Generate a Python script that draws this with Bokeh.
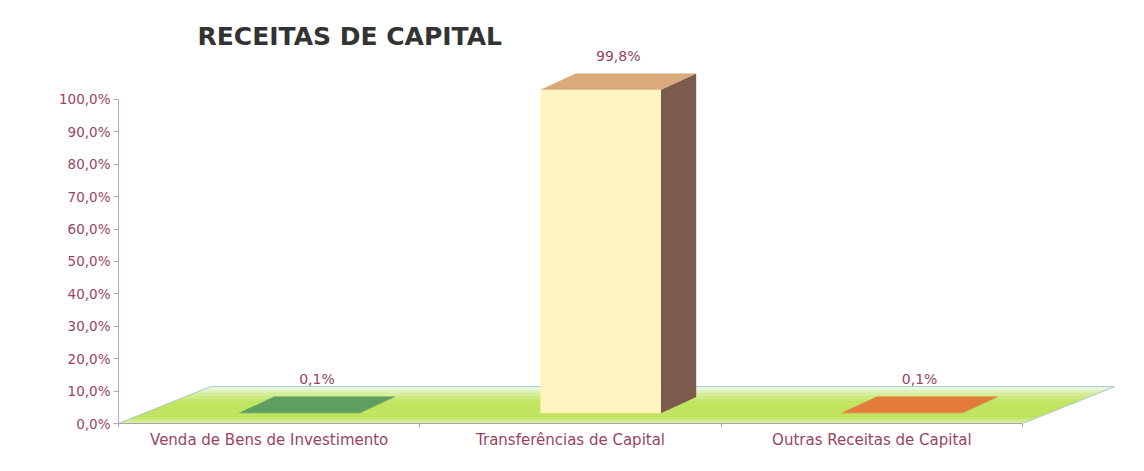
import numpy as np
from bokeh.plotting import figure
from bokeh.models import FixedTicker, Range1d, ColumnDataSource, LabelSet
from bokeh.embed import file_html
from bokeh.resources import INLINE
from bokeh.core.properties import value

# ---------------- data ----------------
title_text = "RECEITAS DE CAPITAL"
categories = ["Venda de Bens de Investimento", "Transferências de Capital", "Outras Receitas de Capital"]
shares = [0.1, 99.8, 0.1]
y_ticks = [0, 10, 20, 30, 40, 50, 60, 70, 80, 90, 100]
y_tick_labels = ["0,0%", "10,0%", "20,0%", "30,0%", "40,0%", "50,0%", "60,0%", "70,0%", "80,0%", "90,0%", "100,0%"]
value_labels = ["0,1%", "99,8%", "0,1%"]

# ---------------- style ----------------
FONT = "DejaVu Sans"
TEXT_RED = "#9A4461"
AXIS_Y = "#C9A0B2"
AXIS_X = "#A6A6A6"
FRONT_COLS = ["#5E9E60", "#FFF4C0", "#E27B3B"]
TOP_COLS = ["#5E9E60", "#D9AA7A", "#E27B3B"]
SIDE_COLS = ["#4C8A4F", "#7B5B4D", "#C4642C"]
# floor gradient stops: (depth fraction from front, colour)
FLOOR_STOPS = [(0.0, (0xDE, 0xF2, 0xB4)), (0.18, (0xBE, 0xE3, 0x5A)),
               (0.6, (0xC0, 0xE5, 0x60)), (0.85, (0xD9, 0xF0, 0xA8)),
               (1.0, (0xF0, 0xF9, 0xF2))]
FLOOR_EDGE = "#AFC9C9"

FDX, FDY = 0.306, 11.4          # floor depth offset (x units, %)
BAR_X0, BAR_W = 0.40, 0.40      # bar front face position inside category slot
BAR_BASE = 3.2                  # bar base above floor front edge
BDX, BDY = 0.117, 5.0           # bar depth offset
LABEL_OFF = 3.0

n = len(categories)


def floor_colour(t):
    for (t0, c0), (t1, c1) in zip(FLOOR_STOPS[:-1], FLOOR_STOPS[1:]):
        if t0 <= t <= t1:
            f = (t - t0) / (t1 - t0)
            return "#%02x%02x%02x" % tuple(int(round(a + (b - a) * f)) for a, b in zip(c0, c1))
    return "#%02x%02x%02x" % FLOOR_STOPS[-1][1]


p = figure(width=1128, height=455,
           x_range=Range1d(0, 3.325), y_range=Range1d(0, 115.1),
           output_backend="svg", toolbar_location=None,
           min_border_left=118, min_border_right=8,
           min_border_top=50, min_border_bottom=32,
           background_fill_color="white", border_fill_color="white",
           outline_line_color=None)
p.xgrid.visible = False
p.ygrid.visible = False

# ---------------- floor (gradient strips) ----------------
N = 24
fxs, fys, fcols = [], [], []
for k in range(N):
    t0, t1 = k / N, (k + 1) / N
    fxs.append([FDX * t0, n + FDX * t0, n + FDX * t1, FDX * t1])
    fys.append([FDY * t0, FDY * t0, FDY * t1, FDY * t1])
    fcols.append(floor_colour((t0 + t1) / 2))
p.patches(fxs, fys, fill_color=fcols, line_color=fcols, line_width=0.6)
p.line([0, FDX, n + FDX, n], [0, FDY, FDY, 0], line_color=FLOOR_EDGE, line_width=1)

# ---------------- 3D bars ----------------
left = [i + BAR_X0 for i in range(n)]
right = [l + BAR_W for l in left]
bottom = [BAR_BASE] * n
top = [BAR_BASE + v for v in shares]

side_xs = [[r, r + BDX, r + BDX, r] for r in right]
side_ys = [[b, b + BDY, t + BDY, t] for b, t in zip(bottom, top)]
p.patches(side_xs, side_ys, fill_color=SIDE_COLS, line_color=None)
p.quad(left=left, right=right, bottom=bottom, top=top, fill_color=FRONT_COLS, line_color=None)
top_xs = [[l, r, r + BDX, l + BDX] for l, r in zip(left, right)]
top_ys = [[t, t, t + BDY, t + BDY] for t in top]
p.patches(top_xs, top_ys, fill_color=TOP_COLS, line_color=None)

# value labels (annotation, not clipped to frame)
lab_src = ColumnDataSource(dict(
    x=[l + BAR_W / 2 + BDX / 2 for l in left],
    y=[t + BDY + LABEL_OFF for t in top],
    text=value_labels))
p.add_layout(LabelSet(x="x", y="y", text="text", source=lab_src,
                      text_align="center", text_baseline="bottom",
                      text_font=value(FONT), text_font_size=value("14px"),
                      text_color=TEXT_RED))

# ---------------- axes ----------------
xa = p.xaxis[0]
xa.ticker = FixedTicker(ticks=[i + 0.5 for i in range(n)], minor_ticks=list(range(n + 1)))
xa.major_label_overrides = {i + 0.5: c for i, c in enumerate(categories)}
xa.bounds = (0, n)
xa.axis_line_color = AXIS_X
xa.major_tick_line_color = None
xa.major_tick_out = 0
xa.major_tick_in = 0
xa.minor_tick_line_color = AXIS_X
xa.minor_tick_out = 4
xa.minor_tick_in = 0
xa.major_label_standoff = 3
xa.major_label_text_font = FONT
xa.major_label_text_font_size = "15px"
xa.major_label_text_color = TEXT_RED

ya = p.yaxis[0]
ya.ticker = FixedTicker(ticks=y_ticks, minor_ticks=[])
ya.major_label_overrides = dict(zip(y_ticks, y_tick_labels))
ya.bounds = (0, 100)
ya.axis_line_color = AXIS_Y
ya.major_tick_line_color = AXIS_Y
ya.major_tick_out = 5
ya.major_tick_in = 0
ya.minor_tick_line_color = None
ya.major_label_standoff = 3
ya.major_label_text_font = FONT
ya.major_label_text_font_size = "13.5px"
ya.major_label_text_color = TEXT_RED

# ---------------- title ----------------
p.title.text = title_text
p.title.align = "left"
p.title.offset = 79
p.title.standoff = 0
p.title.text_font = FONT
p.title.text_font_style = "bold"
p.title.text_font_size = "25px"
p.title.text_color = "#333333"

p.styles = {"outline": "5px solid #FFFFE6", "outline-offset": "-7px"}

open("out.html", "w").write(file_html(p, INLINE))
